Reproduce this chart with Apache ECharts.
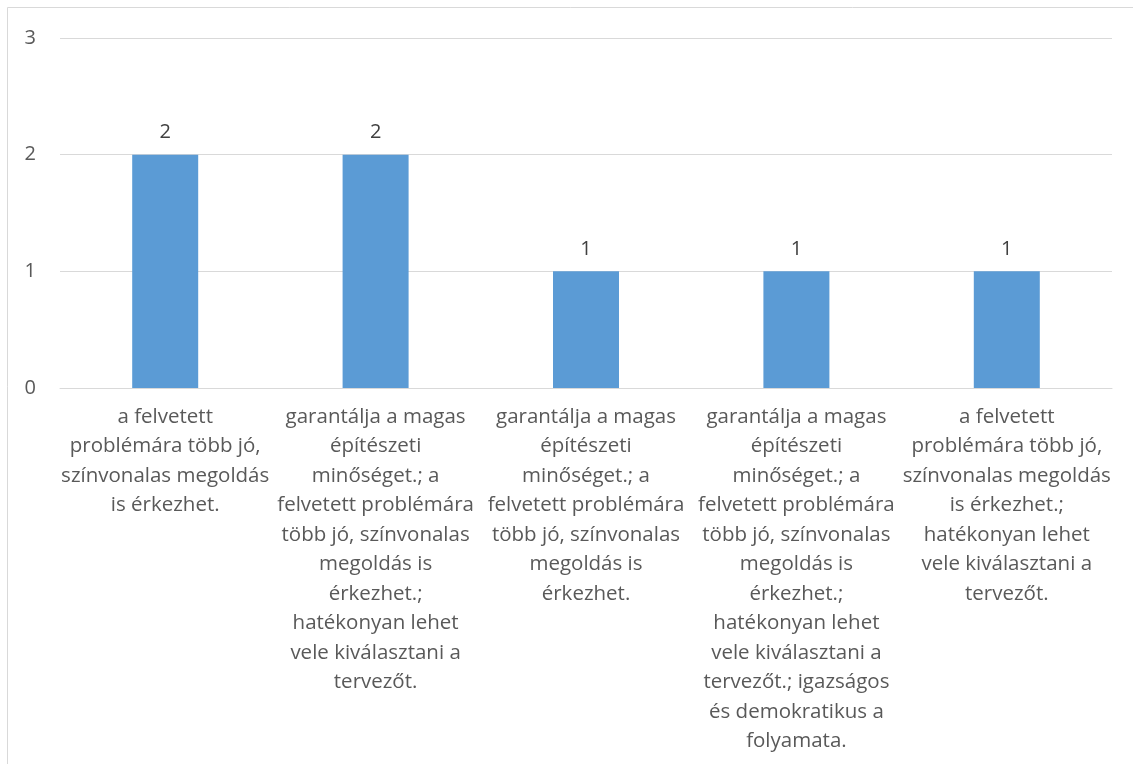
<!DOCTYPE html>
<html><head><meta charset="utf-8">
<script src="https://cdn.jsdelivr.net/npm/echarts@6/dist/echarts.min.js"></script>
<style>html,body{margin:0;padding:0;background:#fff}#c{width:1133px;height:764px}</style>
</head><body><div id="c"></div>
<script>
const categories = [
  "a felvetett\nproblémára több jó,\nszínvonalas megoldás\nis érkezhet.",
  "garantálja a magas\népítészeti\nminőséget.; a\nfelvetett problémára\ntöbb jó, színvonalas\nmegoldás is\nérkezhet.;\nhatékonyan lehet\nvele kiválasztani a\ntervezőt.",
  "garantálja a magas\népítészeti\nminőséget.; a\nfelvetett problémára\ntöbb jó, színvonalas\nmegoldás is\nérkezhet.",
  "garantálja a magas\népítészeti\nminőséget.; a\nfelvetett problémára\ntöbb jó, színvonalas\nmegoldás is\nérkezhet.;\nhatékonyan lehet\nvele kiválasztani a\ntervezőt.; igazságos\nés demokratikus a\nfolyamata.",
  "a felvetett\nproblémára több jó,\nszínvonalas megoldás\nis érkezhet.;\nhatékonyan lehet\nvele kiválasztani a\ntervezőt."
];
const values = [2, 2, 1, 1, 1];
const yTicks = [0, 1, 2, 3];

const FONT = "'Open Sans', sans-serif";
const chart = echarts.init(document.getElementById('c'), null, {renderer: 'canvas'});
chart.setOption({
  animation: false,
  backgroundColor: '#fff',
  graphic: [{
    type: 'rect', shape: {x: 7.5, y: 7.5, width: 1140, height: 780},
    style: {fill: 'none', stroke: '#d9d9d9', lineWidth: 1}, silent: true
  }],
  grid: {left: 60, right: 21, top: 38, bottom: 376, containLabel: false},
  xAxis: {
    type: 'category', data: categories,
    axisLine: {show: true, lineStyle: {color: '#d9d9d9', width: 1}},
    axisTick: {show: false},
    axisLabel: {interval: 0, color: '#595959', fontFamily: FONT, fontSize: 20.5, lineHeight: 29.5, margin: 14, align: 'center'}
  },
  yAxis: {
    type: 'value', min: yTicks[0], max: yTicks[yTicks.length - 1], interval: 1,
    axisLine: {show: false}, axisTick: {show: false},
    splitLine: {lineStyle: {color: '#d9d9d9', width: 1}},
    axisLabel: {color: '#595959', fontFamily: FONT, fontSize: 20, margin: 24, align: 'right'}
  },
  series: [{
    type: 'bar', data: values, barWidth: 66,
    itemStyle: {color: '#5b9bd5'},
    label: {show: true, position: 'top', distance: 12, color: '#404040', fontFamily: FONT, fontSize: 20}
  }]
});
</script></body></html>
